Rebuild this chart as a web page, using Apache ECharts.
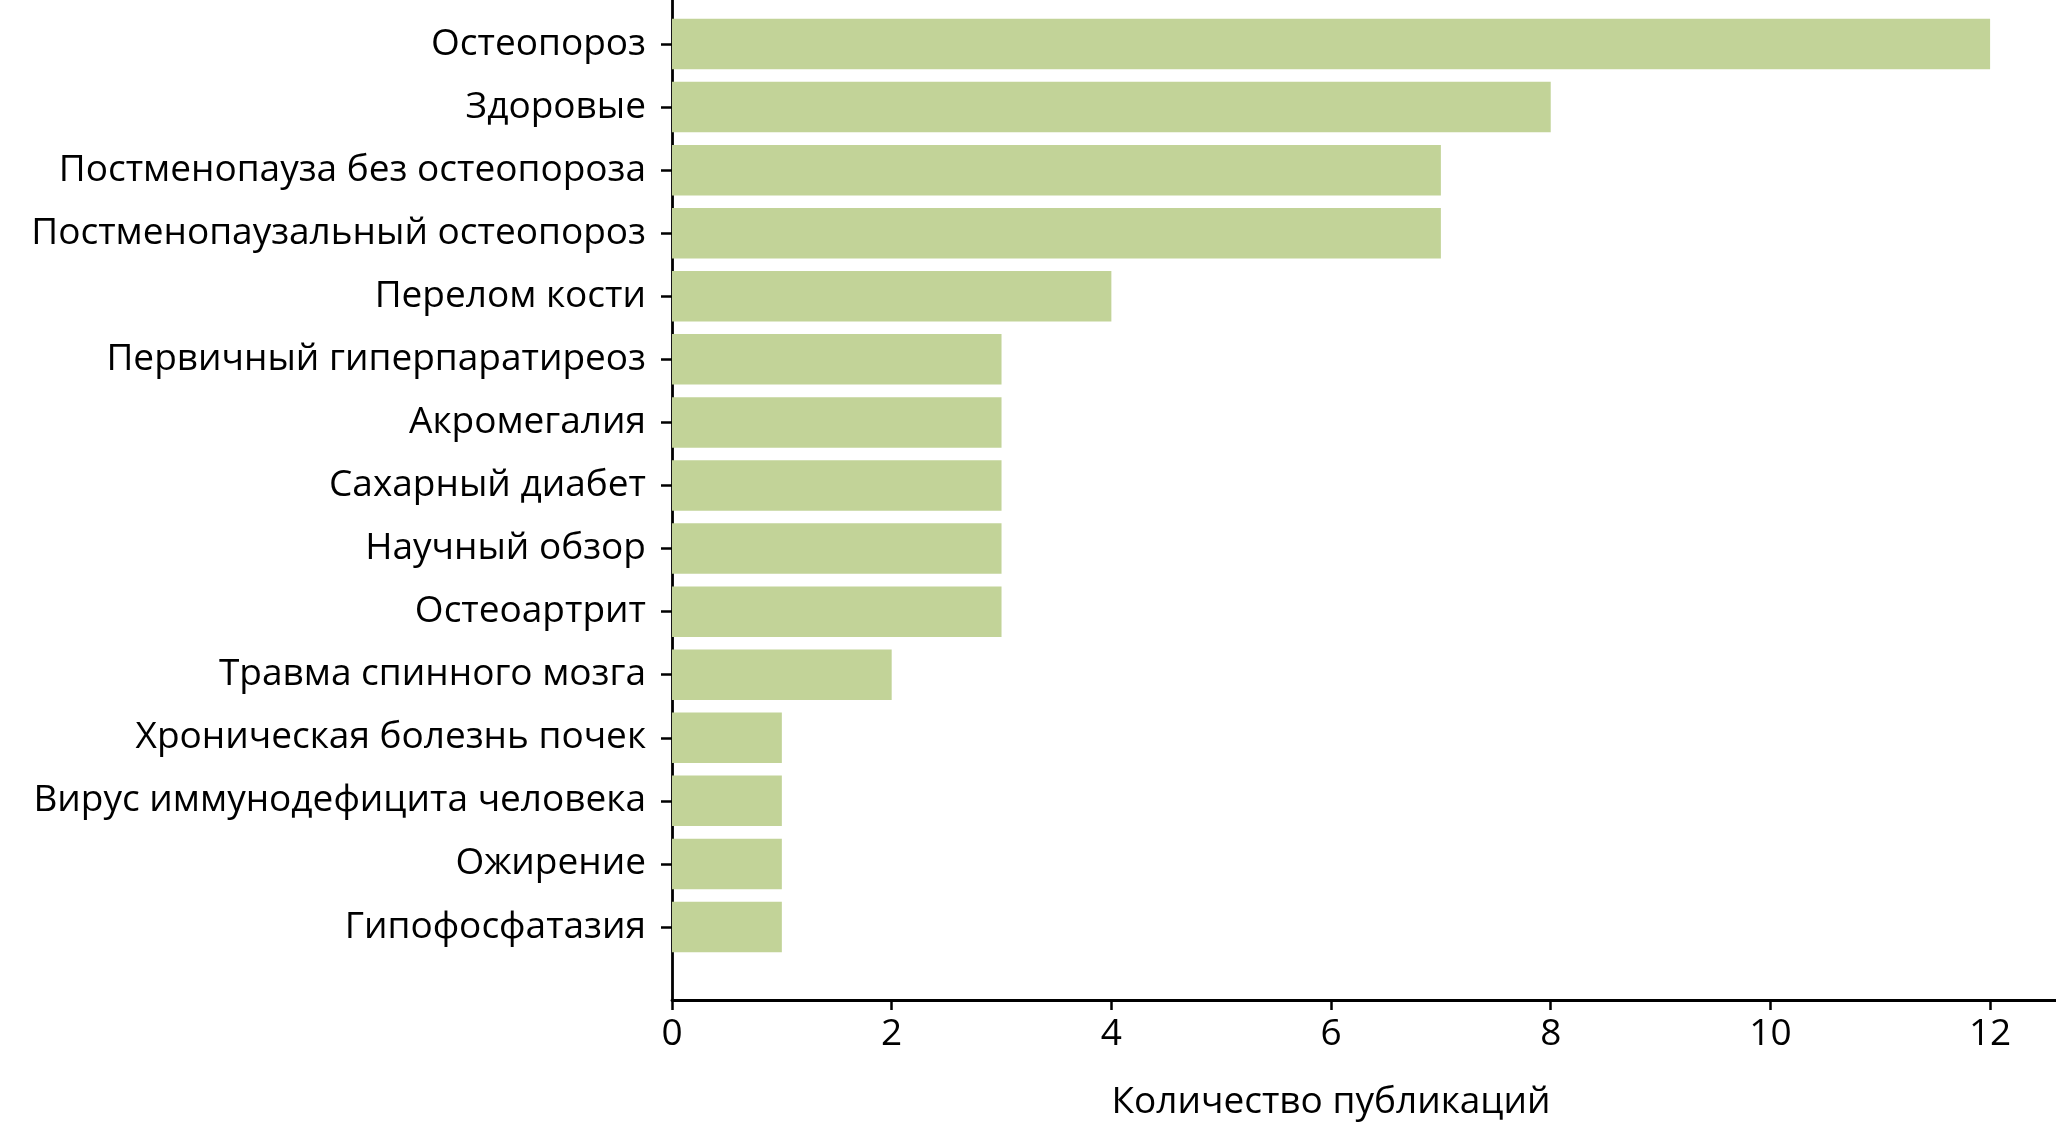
<!DOCTYPE html>
<html>
<head>
<meta charset="utf-8">
<script src="https://cdn.jsdelivr.net/npm/echarts@6/dist/echarts.min.js"></script>
<style>
  html, body { margin: 0; padding: 0; background: #fff; }
  #chart { width: 2056px; height: 1129px; }
</style>
</head>
<body>
<div id="chart"></div>
<script>
const categories = [
  'Остеопороз',
  'Здоровые',
  'Постменопауза без остеопороза',
  'Постменопаузальный остеопороз',
  'Перелом кости',
  'Первичный гиперпаратиреоз',
  'Акромегалия',
  'Сахарный диабет',
  'Научный обзор',
  'Остеоартрит',
  'Травма спинного мозга',
  'Хроническая болезнь почек',
  'Вирус иммунодефицита человека',
  'Ожирение',
  'Гипофосфатазия',
];
const counts = [12, 8, 7, 7, 4, 3, 3, 3, 3, 3, 2, 1, 1, 1, 1];
const xTicks = [0, 2, 4, 6, 8, 10, 12];

const FONT = 'Open Sans';
const barColor = '#c2d398';
const X_MAX = 12.6;

const chart = echarts.init(document.getElementById('chart'));

const option = {
  backgroundColor: '#fff',
  animation: false,
  textStyle: { fontFamily: FONT },
  grid: [
    // bars
    { left: 672, right: 0, top: 12.5, height: 946 },
    // frame: full-height y line and the x axis below
    { left: 672, right: 0, top: 0, height: 1000 },
  ],
  xAxis: [
    {
      gridIndex: 0,
      type: 'value',
      min: 0,
      max: X_MAX,
      show: false,
    },
    {
      gridIndex: 1,
      type: 'value',
      min: 0,
      max: X_MAX,
      name: 'Количество публикаций',
      nameLocation: 'middle',
      nameGap: 84,
      nameTextStyle: { fontFamily: FONT, fontSize: 37, color: '#000', padding: [0, 66, 0, 0] },
      axisLine: { show: true, lineStyle: { color: '#000', width: 2.8 } },
      axisTick: { show: true, length: 10, lineStyle: { color: '#000', width: 2.5 }, customValues: xTicks },
      axisLabel: { fontFamily: FONT, fontSize: 37, color: '#000', margin: 16, customValues: xTicks },
      splitLine: { show: false },
    },
  ],
  yAxis: [
    {
      gridIndex: 0,
      type: 'category',
      data: categories,
      inverse: true,
      axisLine: { show: false },
      axisTick: { show: true, alignWithLabel: true, length: 11, lineStyle: { color: '#000', width: 2.5 } },
      axisLabel: { fontFamily: FONT, fontSize: 37, color: '#000', margin: 26 },
    },
    {
      gridIndex: 1,
      type: 'value',
      axisLine: { show: true, lineStyle: { color: '#000', width: 2.8 } },
      axisTick: { show: false },
      axisLabel: { show: false },
      splitLine: { show: false },
    },
  ],
  series: [
    {
      type: 'bar',
      xAxisIndex: 0,
      yAxisIndex: 0,
      data: counts,
      barWidth: 50.5,
      itemStyle: { color: barColor },
      z: 1,
    },
  ],
};

chart.setOption(option);
</script>
</body>
</html>
